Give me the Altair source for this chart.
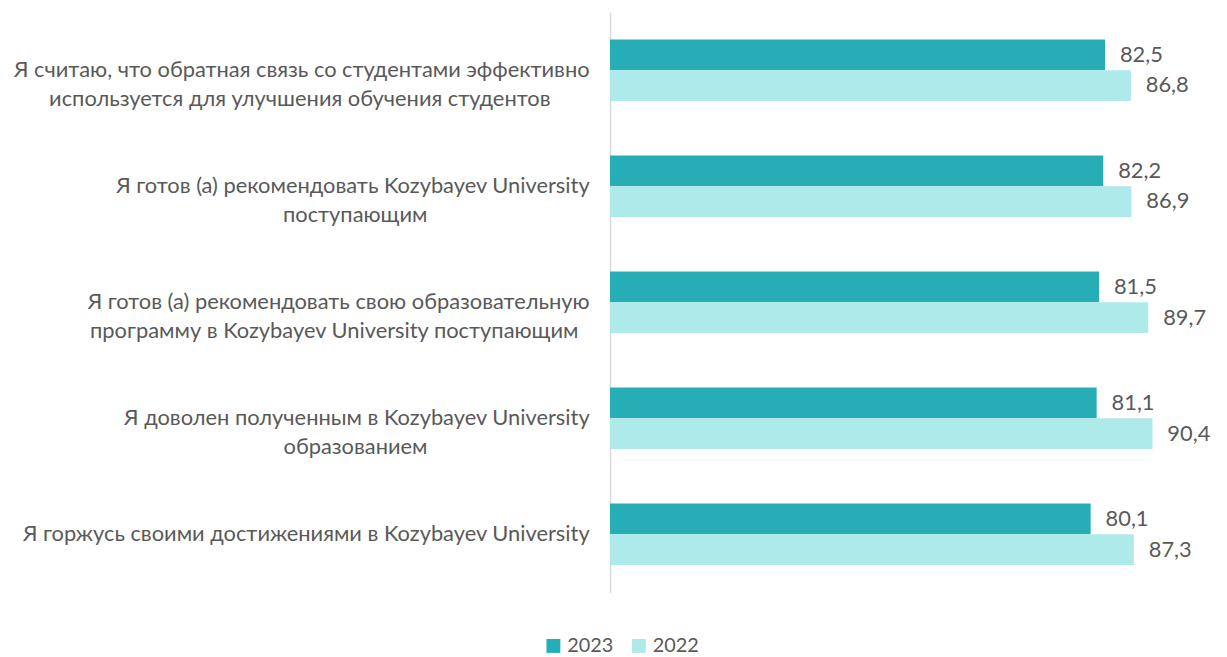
import altair as alt
import pandas as pd

categories = [
    ["Я считаю, что обратная связь со студентами эффективно", "используется для улучшения обучения студентов"],
    ["Я готов (а) рекомендовать Kozybayev University", "поступающим"],
    ["Я готов (а) рекомендовать свою образовательную", "программу в Kozybayev University поступающим"],
    ["Я доволен полученным в Kozybayev University", "образованием"],
    ["Я горжусь своими достижениями в Kozybayev University"],
]
years = ["2023", "2022"]
v2023 = [82.5, 82.2, 81.5, 81.1, 80.1]
v2022 = [86.8, 86.9, 89.7, 90.4, 87.3]
colors = ["#27adb5", "#afeaeb"]

# typographic layout: trailing no-break spaces on the second line of each
# right-aligned label so the two lines read as centred (as in the source)
LAYOUT = {"second_line_pad": [7, 29, 2, 29, 0]}

NBSP = "\u00a0"
ZWSP = "\u200b"  # keeps the trailing padding from being trimmed


def label_text(lines, pad):
    out = list(lines)
    if len(out) > 1 and pad > 0:
        out[1] = out[1] + NBSP * pad + ZWSP
    return "|".join(out)


cat_labels = [label_text(c, p) for c, p in zip(categories, LAYOUT["second_line_pad"])]

rows = []
for c, a, b in zip(cat_labels, v2023, v2022):
    rows.append({"cat": c, "year": "2023", "value": a})
    rows.append({"cat": c, "year": "2022", "value": b})
df = pd.DataFrame(rows)

FONT = "Lato"
GRAY = "#595959"

y_enc = alt.Y(
    "cat:N",
    sort=cat_labels,
    scale=alt.Scale(paddingInner=0.47, paddingOuter=0.235),
    axis=alt.Axis(
        title=None,
        ticks=False,
        domainColor="#d9d9d9",
        domainWidth=1.5,
        labelPadding=21,
        labelFontSize=22,
        labelFont=FONT,
        labelColor=GRAY,
        labelLimit=0,
        labelLineHeight=29,
        labelExpr="split(datum.label, '|')",
    ),
)
x_enc = alt.X("value:Q", scale=alt.Scale(domain=[0, 100]), axis=None)
yoff = alt.YOffset("year:N", sort=years, scale=alt.Scale(paddingInner=0, paddingOuter=0))

base = alt.Chart(df)

bars = base.mark_bar().encode(
    x=x_enc,
    y=y_enc,
    yOffset=yoff,
    color=alt.Color(
        "year:N",
        sort=years,
        scale=alt.Scale(domain=years, range=colors),
        legend=alt.Legend(
            title=None,
            orient="none",
            direction="horizontal",
            legendX=-67,
            legendY=628,
            symbolType="square",
            symbolSize=196,
            symbolStrokeWidth=0,
            labelFontSize=20,
            labelFont=FONT,
            labelColor=GRAY,
            labelOffset=4,
            columnPadding=15,
            padding=0,
        ),
    ),
)

text = base.transform_calculate(
    lbl="replace(format(datum.value, '.1f'), '.', ',')"
).mark_text(align="left", baseline="middle", dx=15, fontSize=22, font=FONT, color=GRAY).encode(
    x=x_enc,
    y=y_enc,
    yOffset=yoff,
    text="lbl:N",
)

chart = (
    alt.layer(bars, text)
    .properties(
        width=604,
        height=584,
        padding={"left": 606, "top": 2, "right": 9, "bottom": 63},
        autosize="none",
    )
    .configure_view(stroke=None)
)

chart.save("out.html", embed_options={"renderer": "svg", "actions": False})
